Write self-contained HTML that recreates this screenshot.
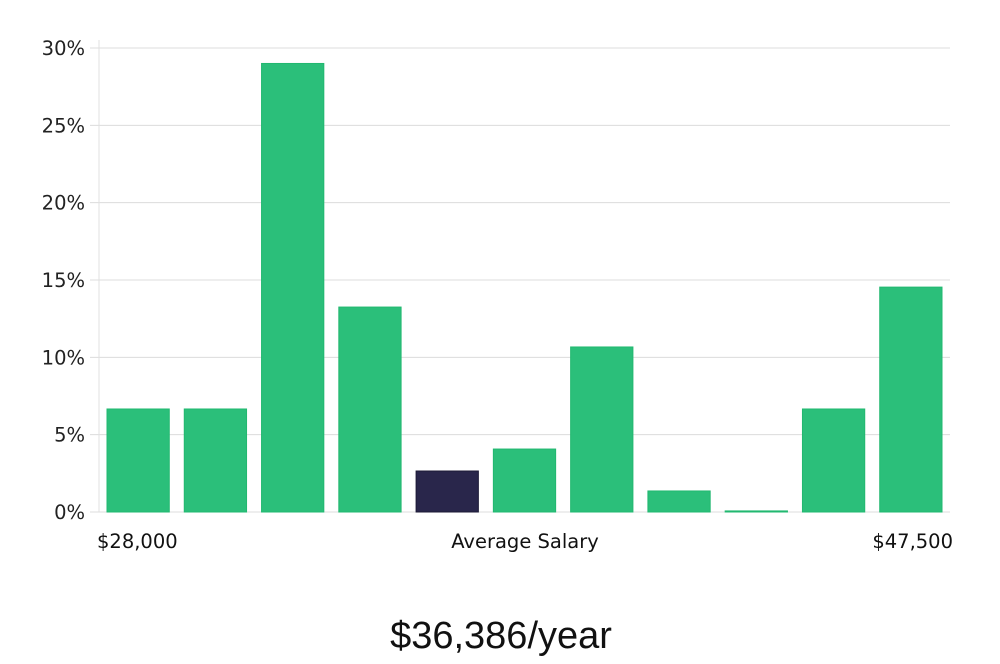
<!DOCTYPE html>
<html><head><meta charset="utf-8"><style>
body{margin:0;background:#fff;width:1000px;height:660px;overflow:hidden;font-family:"DejaVu Sans","Liberation Sans",sans-serif}
</style></head><body>
<svg id="chart" width="1000" height="660" xmlns="http://www.w3.org/2000/svg"></svg>
<script>
const categories=["b1","b2","b3","b4","b5","b6","b7","b8","b9","b10","b11"];
const values=[6.66,6.66,29.0,13.25,2.65,4.07,10.67,1.36,0.07,6.66,14.54];
const highlight=[false,false,false,false,true,false,false,false,false,false,false];
const yTicks=[0,5,10,15,20,25,30];
const yTickLabels=["0%","5%","10%","15%","20%","25%","30%"];
const NS="http://www.w3.org/2000/svg";
const svg=document.getElementById('chart');
const x0=99,x1=949,y0=512,yTop=48,yMax=30;
const band=(x1-x0)/categories.length;
const y=v=>y0-(v/yMax)*(y0-yTop);
const xb=i=>x0+i*band+8;
function mk(t,a){const e=document.createElementNS(NS,t);for(const k in a)e.setAttribute(k,a[k]);svg.appendChild(e);return e;}
yTicks.forEach((t,i)=>{
  const g=mk('line',{x1:90,x2:950,y1:y(t),y2:y(t),stroke:'#dcdcdc','stroke-width':1});
  
  
  const l=mk('text',{x:85,y:y(t)+7,'text-anchor':'end','font-size':19.5,fill:'#222'});
  l.textContent=yTickLabels[i];
  
  
});
const ax=mk('line',{x1:99,x2:99,y1:40,y2:512,stroke:'#e0e0e0','stroke-width':1});


values.forEach((v,i)=>{
  const r=mk('rect',{x:xb(i),y:y(v),width:band-15,height:Math.max(1,y0-y(v)),fill:highlight[i]?'#29264b':'#2bbf7a',stroke:highlight[i]?'#1c1a36':'#22b870','stroke-width':1});
  
  
});
function txt(s,x,yy,anchor,size,name,fill,fam){const t=mk('text',{x:x,y:yy,'text-anchor':anchor,'font-size':size,fill:fill||'#111'});if(fam)t.setAttribute('font-family',fam);t.textContent=s;return t;}
txt('$28,000',97,548,'start',19.5,'x-min-label');
txt('Average Salary',525,548,'middle',19.5,'x-axis-title');
txt('$47,500',953,548,'end',19.5,'x-max-label');
txt('$36,386/year',501,648,'middle',38,'average-salary-value','#111','Liberation Sans Narrow, Liberation Sans, sans-serif');
</script>
</body></html>
